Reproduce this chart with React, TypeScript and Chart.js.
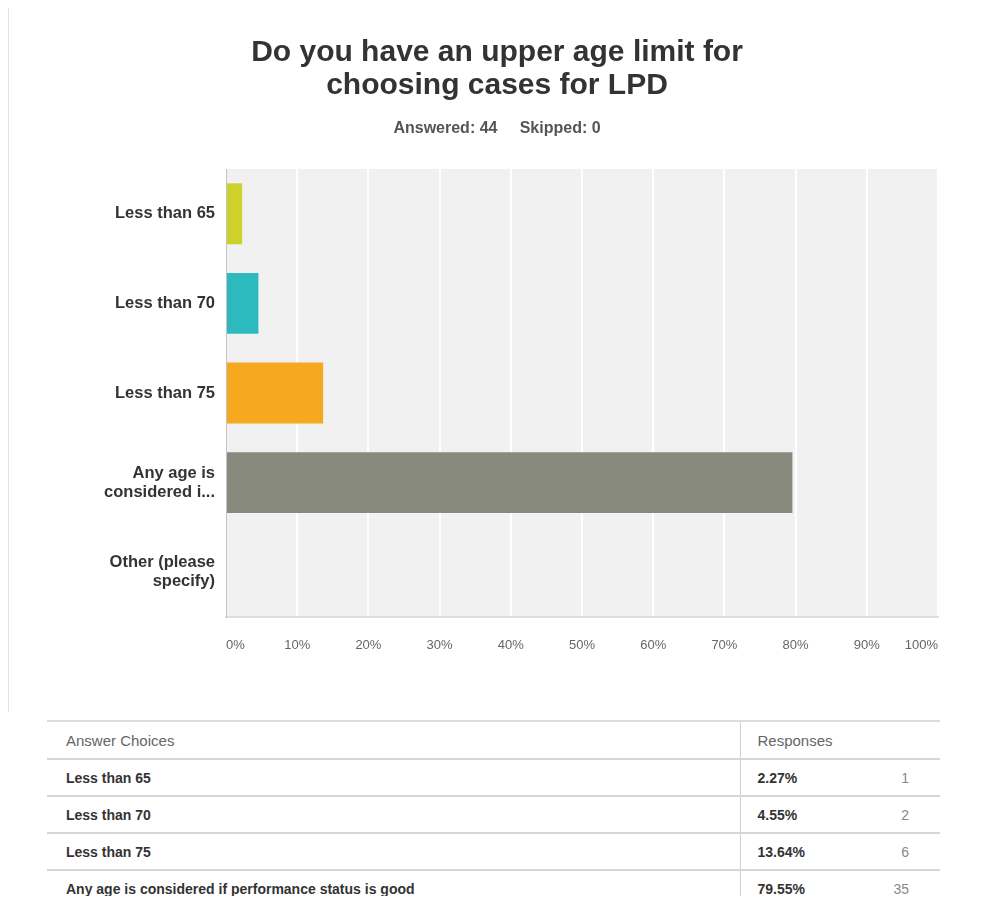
import React, { useEffect, useRef } from "react";
import { Chart, registerables } from "chart.js";

Chart.register(...registerables);

const titleLines = ["Do you have an upper age limit for", "choosing cases for LPD"];
const subtitleText = "Answered: 44     Skipped: 0";
const categories: (string | string[])[] = [
  "Less than 65",
  "Less than 70",
  "Less than 75",
  ["Any age is", "considered i..."],
  ["Other (please", "specify)"],
];
const percentValues = [2.27, 4.55, 13.64, 79.55, 0];
const barColors = ["#cdd22a", "#2cbabe", "#f6a81e", "#878a7c", "#d0d0d0"];
const tableChoices = [
  "Less than 65",
  "Less than 70",
  "Less than 75",
  "Any age is considered if performance status is good",
  "Other (please specify)",
];
const tablePercents = ["2.27%", "4.55%", "13.64%", "79.55%", "0.00%"];
const tableCounts = [1, 2, 6, 35, 0];

const FONT = "'Liberation Sans', Arial, Helvetica, sans-serif";

const bgPlugin = {
  id: "plotBg",
  beforeDraw(chart: any) {
    const { ctx, chartArea } = chart;
    if (!chartArea) return;
    ctx.save();
    ctx.fillStyle = "#f1f1f1";
    ctx.fillRect(chartArea.left, chartArea.top, chartArea.right - chartArea.left, chartArea.bottom - chartArea.top);
    ctx.restore();
  },
};

export default function App() {
  const ref = useRef<HTMLCanvasElement | null>(null);

  useEffect(() => {
    if (!ref.current) return;
    const chart = new Chart(ref.current, {
      type: "bar",
      data: {
        labels: categories as any,
        datasets: [
          {
            data: percentValues,
            backgroundColor: barColors,
            borderWidth: 0,
            categoryPercentage: 1,
            barPercentage: 0.68,
          },
        ],
      },
      options: {
        indexAxis: "y",
        animation: false,
        responsive: true,
        maintainAspectRatio: false,
        layout: { padding: 0 },
        plugins: {
          legend: { display: false },
          tooltip: { enabled: false },
          title: {
            display: true,
            text: titleLines,
            color: "#333333",
            font: { family: FONT, size: 30, weight: "bold", lineHeight: 1.1 },
            padding: { top: 28, bottom: 17.4 },
          },
          subtitle: {
            display: true,
            text: subtitleText,
            color: "#555555",
            font: { family: FONT, size: 16, weight: "bold", lineHeight: 1.2 },
            padding: { top: 0, bottom: 30.4 },
          },
        },
        scales: {
          x: {
            min: 0,
            max: 100,
            ticks: {
              stepSize: 10,
              callback: (v: any) => v + "%",
              color: "#666666",
              font: { family: FONT, size: 13 },
              padding: 21,
              maxRotation: 0,
              autoSkip: false,
              align: "inner",
            },
            grid: { color: "#ffffff", lineWidth: 2, drawTicks: false },
            border: { display: true, color: "#dedede", width: 2 },
            afterFit: (s: any) => {
              s.height = 51;
            },
          },
          y: {
            ticks: {
              color: "#333333",
              font: { family: FONT, size: 16.5, weight: "bold", lineHeight: 1.15 },
              padding: 11,
            },
            grid: { display: false, drawTicks: false },
            border: { display: true, color: "#c4c4c4", width: 1 },
            afterFit: (s: any) => {
              s.width = 218;
            },
          },
          yRightSpace: {
            type: "linear",
            position: "right",
            display: true,
            ticks: { display: false },
            grid: { display: false, drawTicks: false },
            border: { display: false },
            afterFit: (s: any) => {
              s.width = 48;
            },
          },
        },
      } as any,
      plugins: [bgPlugin],
    });
    return () => chart.destroy();
  }, []);

  const cellBorder = "2px solid #d6d6d6";

  return (
    <div style={{ position: "relative", width: 965, height: 888, overflow: "hidden", fontFamily: FONT }}>
      <div style={{ position: "absolute", left: 0, top: -8, width: 1, height: 712, background: "#e4e4e4" }} />
      <div style={{ position: "absolute", left: 0, top: 0, width: 978, height: 660 }}>
        <canvas ref={ref} />
      </div>
      <table
        style={{
          position: "absolute",
          left: 39,
          top: 712,
          width: 893,
          borderCollapse: "collapse",
          borderTop: "2px solid #dcdcdc",
          fontFamily: FONT,
          tableLayout: "fixed",
        }}
      >
        <colgroup>
          <col style={{ width: 693 }} />
          <col style={{ width: 100 }} />
          <col style={{ width: 100 }} />
        </colgroup>
        <tbody>
          <tr style={{ height: 38 }}>
            <td style={{ paddingLeft: 19, color: "#666", fontSize: 15, borderRight: "1px solid #cfcfcf" }}>
              Answer Choices
            </td>
            <td colSpan={2} style={{ paddingLeft: 17, color: "#666", fontSize: 15 }}>
              Responses
            </td>
          </tr>
          {tableChoices.map((c, i) => (
            <tr key={c} style={{ height: 37 }}>
              <td style={{ paddingLeft: 19, color: "#333", fontSize: 14, fontWeight: "bold", borderRight: "1px solid #cfcfcf", borderTop: cellBorder }}>
                {c}
              </td>
              <td style={{ paddingLeft: 17, color: "#333", fontSize: 14, fontWeight: "bold", borderTop: cellBorder }}>
                {tablePercents[i]}
              </td>
              <td style={{ paddingRight: 31, textAlign: "right", color: "#888", fontSize: 14, borderTop: cellBorder }}>
                {tableCounts[i]}
              </td>
            </tr>
          ))}
        </tbody>
      </table>
    </div>
  );
}
